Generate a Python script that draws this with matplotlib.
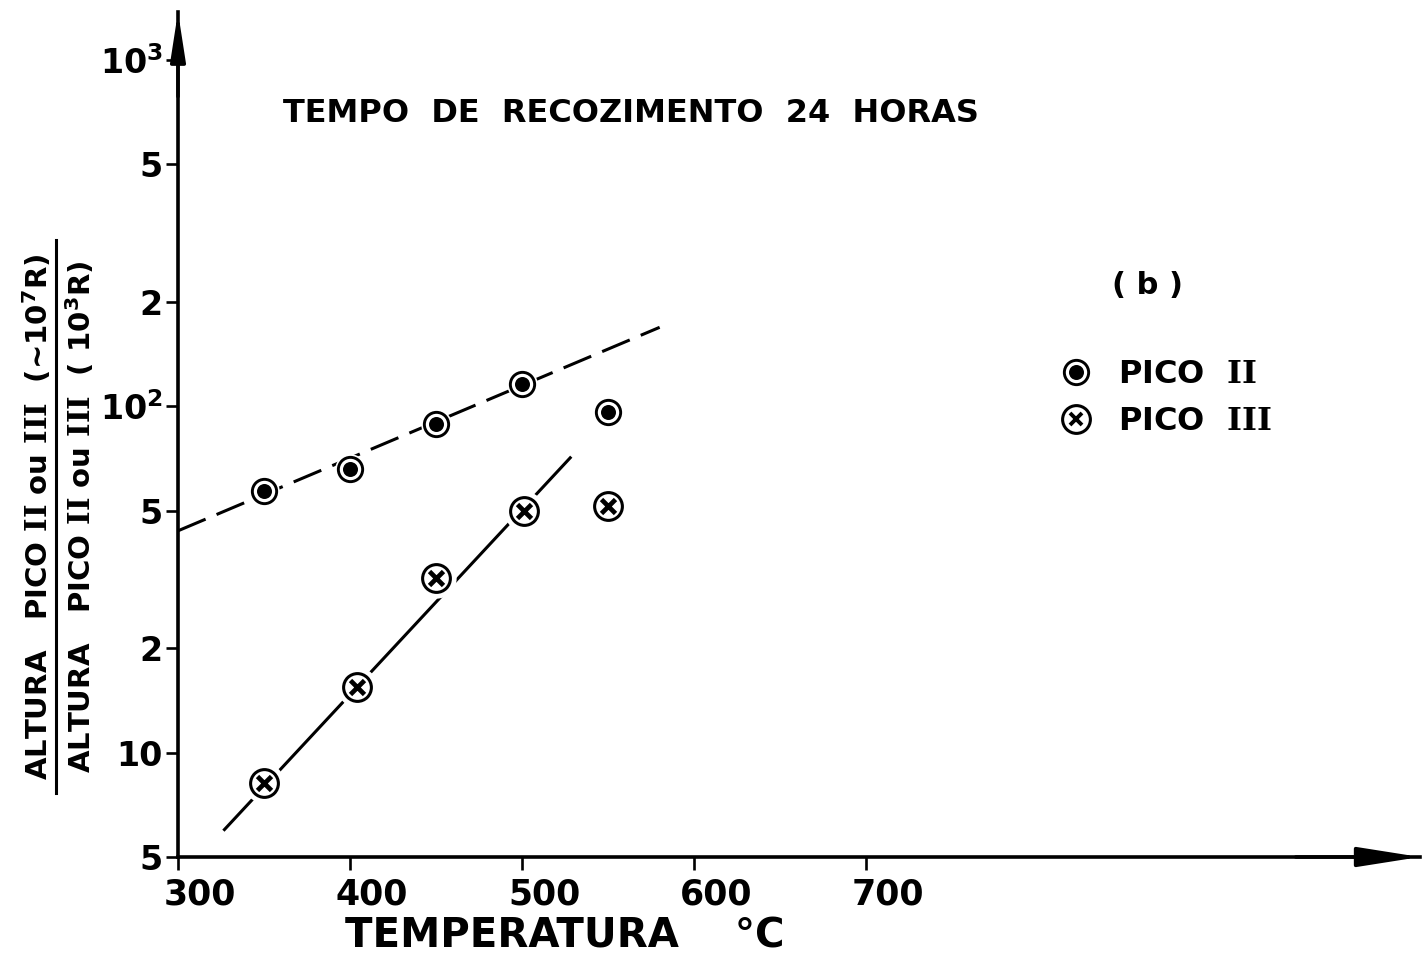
import numpy as np
import matplotlib
matplotlib.use("Agg")
import matplotlib.pyplot as plt
from matplotlib.lines import Line2D
from matplotlib.transforms import ScaledTranslation

#---------- DATA -----------------------
temp_pico2 = [350, 400, 450, 500, 550]      # C
alt_pico2 = [57, 66, 89, 116, 96]           # peak height ratio
temp_pico3 = [350, 404, 450, 501, 550]
alt_pico3 = [8.2, 15.5, 32, 50, 51.5]

# straight-line fits (log scale)
fit2_temp = [300, 580]
fit2_alt = [43.7, 169]
fit3_temp = [327, 528]
fit3_alt = [6.0, 71]

x_ticks = [300, 400, 500, 600, 700]
x_ticklabels = ['300', '400', '500', '600', '700']
y_ticks = [5, 10, 20, 50, 100, 200, 500, 1000]
y_ticklabels = ['5', '10', '2', '5', r'$10^{2}$', '2', '5', r'$10^{3}$']

plt.rcParams['font.family'] = ['DejaVu Sans']
plt.rcParams['font.weight'] = 'bold'
# roman numerals with slab serifs come from the serif face
plt.rcParams['mathtext.fontset'] = 'custom'
plt.rcParams['mathtext.rm'] = 'DejaVu Sans:bold'
plt.rcParams['mathtext.it'] = 'DejaVu Serif:bold'
plt.rcParams['mathtext.default'] = 'rm'
II = r'$\mathit{II}$'
III = r'$\mathit{III}$'

#---------- FIGURE -----------------------
fig = plt.figure(figsize=(14.28, 9.6), dpi=100)
W, H = 1428, 960
ax = fig.add_axes([178 / W, 1 - 857 / H, (1420 - 178) / W, (857 - 12) / H])
ax.set_yscale('log')
ax.set_xlim(300, 1022)
ax.set_ylim(5, 10 ** 3.138)

# fit lines
ax.plot(fit2_temp, fit2_alt, color='black', lw=2.2, linestyle=(0, (9.8, 3.9)),
        solid_capstyle='butt', zorder=2)
ax.plot(fit3_temp, fit3_alt, color='black', lw=2.2, zorder=2)

# white halos so lines stop short of the symbols
ax.plot(temp_pico2, alt_pico2, 'o', ms=22, mfc='white', mec='none', zorder=3)
ax.plot(temp_pico3, alt_pico3, 'o', ms=29, mfc='white', mec='none', zorder=3)

# PICO II : ring with dot
ax.plot(temp_pico2, alt_pico2, 'o', ms=17.5, mfc='white', mec='black', mew=2.1, zorder=4)
ax.plot(temp_pico2, alt_pico2, 'o', ms=10.8, mfc='black', mec='none', zorder=5)
# PICO III : ring with x
ax.plot(temp_pico3, alt_pico3, 'o', ms=20, mfc='white', mec='black', mew=2.2, zorder=4)
ax.plot(temp_pico3, alt_pico3, 'x', ms=10, mec='black', mew=3.4, zorder=5)

# axes: only left and bottom, with arrow heads
for s in ['top', 'right']:
    ax.spines[s].set_visible(False)
for s in ['left', 'bottom']:
    ax.spines[s].set_linewidth(2.6)
ax.annotate('', xy=(1.0, 0), xytext=(0.9, 0), xycoords='axes fraction',
            arrowprops=dict(arrowstyle='-|>,head_length=3.8,head_width=0.6',
                            color='black', lw=2.6, shrinkA=0, shrinkB=0))
ax.annotate('', xy=(0, 1.0), xytext=(0, 0.9), xycoords='axes fraction',
            arrowprops=dict(arrowstyle='-|>,head_length=2.9,head_width=0.45',
                            color='black', lw=2.6, shrinkA=0, shrinkB=0))

ax.set_xticks(x_ticks)
ax.set_xticklabels(x_ticklabels)
ax.set_yticks(y_ticks)
ax.set_yticklabels(y_ticklabels)
ax.minorticks_off()
ax.tick_params(axis='both', direction='out', length=9, width=1.9, labelsize=25, pad=6)
ax.tick_params(axis='y', labelsize=24, pad=2)
for lab in ax.get_xticklabels():
    lab.set_transform(lab.get_transform() + ScaledTranslation(0.22, 0, fig.dpi_scale_trans))

# labels
fig.text(565 / W, 1 - 937 / H, 'TEMPERATURA    °C', fontsize=29, ha='center', va='center')
fig.text(631 / W, 1 - 113 / H, 'TEMPO  DE  RECOZIMENTO  24  HORAS', fontsize=23,
         ha='center', va='center')
fig.text(1147 / W, 1 - 285 / H, '( b )', fontsize=22, ha='center', va='center')

# y label as a fraction
fig.text(38 / W, 1 - 517 / H, 'ALTURA   PICO ' + II + ' ou ' + III + '  (~10$^{7}$R)',
         fontsize=21, rotation=90, ha='center', va='center')
fig.text(81 / W, 1 - 517 / H, 'ALTURA   PICO ' + II + ' ou ' + III + '  ( 10$^{3}$R)',
         fontsize=21, rotation=90, ha='center', va='center')
fig.add_artist(Line2D([56 / W, 56 / W], [1 - 793 / H, 1 - 240 / H], color='black', lw=2.2,
                      transform=fig.transFigure))

# legend
h2 = (Line2D([], [], marker='o', ls='none', ms=17.5, mfc='white', mec='black', mew=2.1),
      Line2D([], [], marker='o', ls='none', ms=10.8, mfc='black', mec='none'))
h3 = (Line2D([], [], marker='o', ls='none', ms=20, mfc='white', mec='black', mew=2.2),
      Line2D([], [], marker='x', ls='none', ms=8, mec='black', mew=2.8))
fig.legend([h2, h3], ['PICO  ' + II, 'PICO  ' + III], loc='center left',
           bbox_to_anchor=(1060 / W, 1 - 398 / H), frameon=False, fontsize=23,
           handlelength=1.0, handletextpad=0.8, labelspacing=0.5, borderpad=0,
           borderaxespad=0)

fig.savefig('out.png', dpi=100)
